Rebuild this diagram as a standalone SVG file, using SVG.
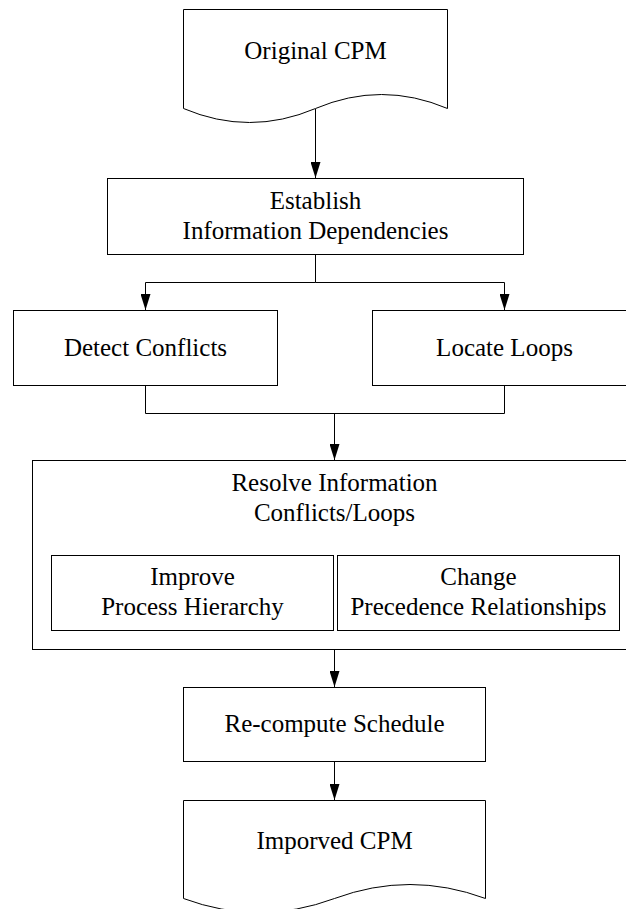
<svg xmlns="http://www.w3.org/2000/svg" width="626" height="909" viewBox="0 0 626 909">
<style>
.shape{fill:#fff;stroke:#000;stroke-width:1}
.conn{fill:none;stroke:#000;stroke-width:1}
.lbl{font-size:25px;fill:#000;text-anchor:middle}
</style>
<defs>
<marker id="arr" viewBox="0 0 16 10" markerWidth="16" markerHeight="10" refX="16" refY="5" orient="auto" markerUnits="userSpaceOnUse">
<path d="M0,0 L16,5 L0,10 Z" fill="#000"/>
</marker>
</defs>
<rect width="626" height="909" fill="#fff"/>
<g id="connectors">
<line class="conn" x1="315.5" y1="109" x2="315.5" y2="178" marker-end="url(#arr)"/>
<polyline class="conn" points="315.5,254.5 315.5,282.5"/>
<polyline class="conn" points="315.5,282.5 145.5,282.5 145.5,310" marker-end="url(#arr)"/>
<polyline class="conn" points="315.5,282.5 504.5,282.5 504.5,310" marker-end="url(#arr)"/>
<polyline class="conn" points="145.5,385.5 145.5,413.5 504.5,413.5 504.5,385.5"/>
<line class="conn" x1="334.5" y1="413.5" x2="334.5" y2="460" marker-end="url(#arr)"/>
<line class="conn" x1="334.5" y1="649.5" x2="334.5" y2="687" marker-end="url(#arr)"/>
<line class="conn" x1="334.5" y1="761.5" x2="334.5" y2="800" marker-end="url(#arr)"/>
</g>
<g font-family="'Liberation Serif', 'DejaVu Serif', 'Times New Roman', serif">
<g id="original-cpm">
<path class="shape" d="M183.5,9.5 L447.5,9.5 L447.5,108.5 Q381.5,80.5 315.5,108.5 Q249.5,136.5 183.5,108.5 Z"/>
<text class="lbl" x="315.5" y="59">Original CPM</text>
</g>
<g id="establish">
<rect class="shape" x="107.5" y="178.5" width="416" height="76"/>
<text class="lbl" x="315.5" y="209">Establish</text>
<text class="lbl" x="315.5" y="239">Information Dependencies</text>
</g>
<g id="detect">
<rect class="shape" x="13.5" y="310.5" width="264" height="75"/>
<text class="lbl" x="145.5" y="356">Detect Conflicts</text>
</g>
<g id="locate">
<rect class="shape" x="372.5" y="310.5" width="264" height="75"/>
<text class="lbl" x="504.5" y="356">Locate Loops</text>
</g>
<g id="resolve">
<rect class="shape" x="32.5" y="460.5" width="603" height="189"/>
<text class="lbl" x="334.5" y="491">Resolve Information</text>
<text class="lbl" x="334.5" y="521">Conflicts/Loops</text>
</g>
<g id="improve">
<rect class="shape" x="51.5" y="555.5" width="282" height="75"/>
<text class="lbl" x="192.5" y="585">Improve</text>
<text class="lbl" x="192.5" y="615">Process Hierarchy</text>
</g>
<g id="change">
<rect class="shape" x="337.5" y="555.5" width="282" height="75"/>
<text class="lbl" x="478.5" y="585">Change</text>
<text class="lbl" x="478.5" y="615">Precedence Relationships</text>
</g>
<g id="recompute">
<rect class="shape" x="183.5" y="687.5" width="302" height="74"/>
<text class="lbl" x="334.5" y="732">Re-compute Schedule</text>
</g>
<g id="improved-cpm">
<path class="shape" d="M183.5,800.5 L485.5,800.5 L485.5,898.5 Q410,870.5 334.5,898.5 Q259,926.5 183.5,898.5 Z"/>
<text class="lbl" x="334.5" y="849">Imporved CPM</text>
</g>
</g>
</svg>
